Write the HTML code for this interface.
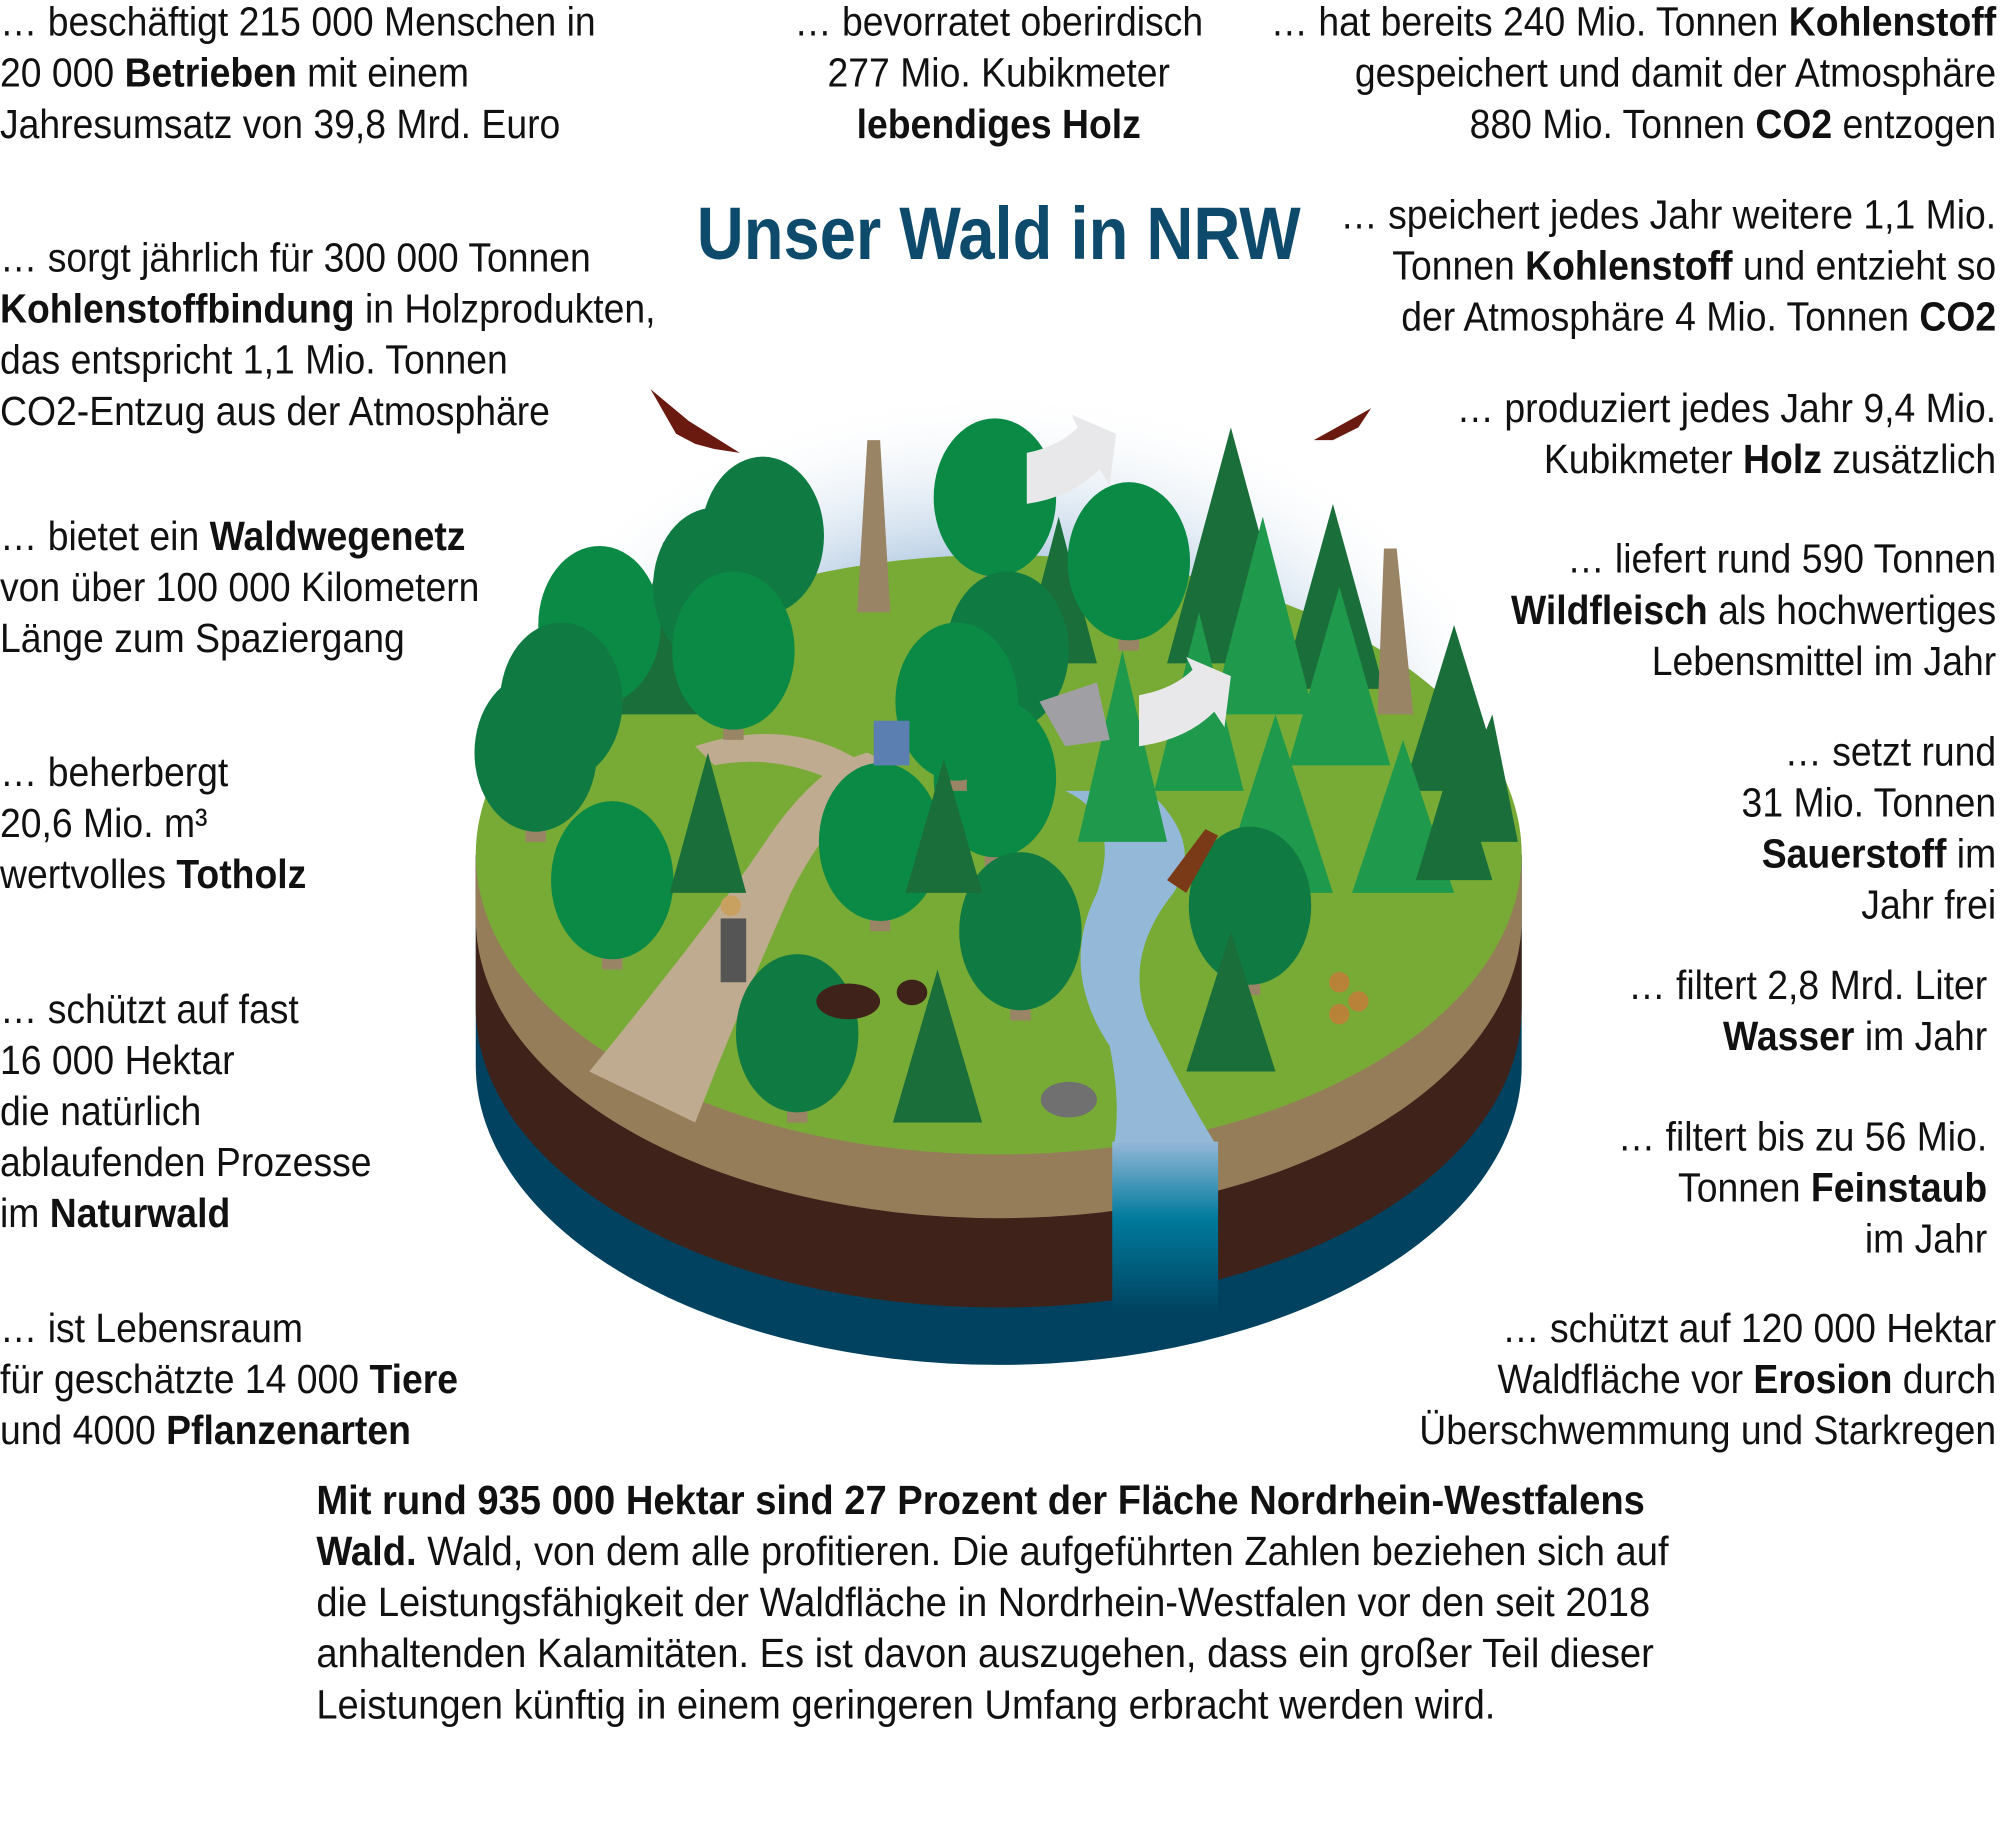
<!DOCTYPE html>
<html><head><meta charset="utf-8"><style>
html,body{margin:0;padding:0;background:#fff;}
svg{display:block;}
text{font-family:"Liberation Sans",sans-serif;font-size:32px;fill:#111;}
.b{font-weight:bold;}
</style></head><body>
<svg width="2000" height="1842" viewBox="0 0 1568 1444" preserveAspectRatio="none" xmlns="http://www.w3.org/2000/svg">
<defs>
<radialGradient id="sky" cx="0.5" cy="0.75" r="0.6">
<stop offset="0" stop-color="#8fb5d8"/><stop offset="0.6" stop-color="#b9cfe5"/><stop offset="1" stop-color="#fff" stop-opacity="0"/>
</radialGradient>
<linearGradient id="wf" x1="0" y1="0" x2="0" y2="1">
<stop offset="0" stop-color="#94b8d8"/><stop offset="0.45" stop-color="#007a9c"/><stop offset="1" stop-color="#00425f"/>
</linearGradient>
<g id="dt"><rect x="-8" y="0" width="16" height="60" fill="#9a8466"/><ellipse cx="0" cy="-10" rx="48" ry="62"/></g>
</defs>
<ellipse cx="783" cy="500" rx="360" ry="280" fill="url(#sky)"/>
<path d="M373 670 L373 835 A410 235 0 0 0 1193 835 L1193 670 Z" fill="#00425f"/>
<path d="M373 670 L373 790 A410 235 0 0 0 1193 790 L1193 670 Z" fill="#3f231b"/>
<path d="M373 670 L373 720 A410 235 0 0 0 1193 720 L1193 670 Z" fill="#957d5a"/>
<ellipse cx="783" cy="670" rx="410" ry="235" fill="#78ab35"/>
<path d="M462 840 Q560 720 600 660 Q640 600 680 590 L700 600 Q650 640 620 700 Q580 790 545 880 Z" fill="#bfab8f"/>
<path d="M545 585 Q620 560 680 600 L660 615 Q610 590 560 600 Z" fill="#bfab8f"/>
<path d="M835 620 Q880 640 860 700 Q830 760 870 820 Q880 870 872 905 L955 900 Q930 860 900 800 Q880 750 920 700 Q945 660 900 620 Z" fill="#94b8d8"/>
<rect x="872" y="895" width="83" height="135" fill="url(#wf)"/>
<g fill="#1a6e3a">
<polygon points="965,335 915,520 1015,520"/><polygon points="1045,395 1005,540 1085,540"/><polygon points="1140,490 1100,620 1180,620"/>
<polygon points="520,425 485,560 555,560"/><polygon points="830,405 800,520 860,520"/><polygon points="1170,560 1130,660 1190,660"/>
</g>
<path d="M680 345 L690 345 L698 480 L672 480 Z" fill="#9a8466"/>
<path d="M1085 430 L1095 430 L1108 560 L1080 560 Z" fill="#9a8466"/>
<g fill="#0b8a45"><use href="#dt" x="780" y="400"/><use href="#dt" x="885" y="450"/><use href="#dt" x="470" y="500"/></g>
<g fill="#0f7a42"><use href="#dt" x="598" y="430"/><use href="#dt" x="790" y="520"/><use href="#dt" x="440" y="560"/><use href="#dt" x="560" y="470"/></g>
<g fill="#1f9a4c">
<polygon points="990,405 950,560 1030,560"/><polygon points="1050,460 1010,600 1090,600"/><polygon points="940,480 905,620 975,620"/>
<polygon points="780,510 750,620 810,620"/><polygon points="1000,560 955,700 1045,700"/><polygon points="1100,580 1060,700 1140,700"/>
<polygon points="880,510 845,660 915,660"/>
</g>
<g fill="#0b8a45"><use href="#dt" x="575" y="520"/><use href="#dt" x="690" y="670"/><use href="#dt" x="780" y="620"/><use href="#dt" x="480" y="700"/><use href="#dt" x="750" y="560"/></g>
<g fill="#0f7a42"><use href="#dt" x="420" y="600"/><use href="#dt" x="980" y="720"/><use href="#dt" x="800" y="740"/><use href="#dt" x="625" y="820"/></g>
<g fill="#1a6e3a">
<polygon points="555,590 525,700 585,700"/><polygon points="740,595 710,700 770,700"/><polygon points="735,760 700,880 770,880"/>
<polygon points="1140,590 1110,690 1170,690"/><polygon points="965,730 930,840 1000,840"/>
</g>
<path d="M805 355 Q830 350 845 335 L840 325 L875 340 L870 380 L862 368 Q840 390 805 395 Z" fill="#e8e8ea"/>
<path d="M893 545 Q920 540 935 525 L930 515 L965 530 L960 570 L952 558 Q930 580 893 585 Z" fill="#e8e8ea"/>
<path d="M815 550 L860 535 L870 580 L835 585 Z" fill="#a0a0a4"/>
<path d="M510 305 L540 330 L580 355 L560 352 L545 348 L530 340 Z" fill="#6b1a10"/>
<path d="M1030 345 L1075 320 L1065 335 L1045 345 Z" fill="#6b1a10"/>
<ellipse cx="665" cy="785" rx="25" ry="14" fill="#3f231b"/><ellipse cx="715" cy="778" rx="12" ry="10" fill="#3f231b"/>
<path d="M915 690 L945 650 L955 655 L930 700 Z" fill="#7a3a18"/>
<rect x="565" y="720" width="20" height="50" fill="#555"/><circle cx="573" cy="710" r="8" fill="#c8a060"/>
<rect x="685" y="565" width="28" height="35" fill="#5a7fb0"/>
<g fill="#c97a3a" opacity="0.8"><circle cx="1050" cy="770" r="8"/><circle cx="1065" cy="785" r="8"/><circle cx="1050" cy="795" r="8"/></g>
<ellipse cx="838" cy="862" rx="22" ry="14" fill="#707070"/>
<g transform="translate(0,0) scale(0.915,1)">
<text x="0" y="28">… beschäftigt 215 000 Menschen in</text>
<text x="0" y="68">20 000 <tspan class="b">Betrieben</tspan> mit einem</text>
<text x="0" y="108">Jahresumsatz von 39,8 Mrd. Euro</text>
<text x="0" y="213">… sorgt jährlich für 300 000 Tonnen</text>
<text x="0" y="253"><tspan class="b">Kohlenstoffbindung</tspan> in Holzprodukten,</text>
<text x="0" y="293">das entspricht 1,1 Mio. Tonnen</text>
<text x="0" y="333">CO2-Entzug aus der Atmosphäre</text>
<text x="0" y="431">… bietet ein <tspan class="b">Waldwegenetz</tspan></text>
<text x="0" y="471">von über 100 000 Kilometern</text>
<text x="0" y="511">Länge zum Spaziergang</text>
<text x="0" y="616">… beherbergt</text>
<text x="0" y="656">20,6 Mio. m³</text>
<text x="0" y="696">wertvolles <tspan class="b">Totholz</tspan></text>
<text x="0" y="802">… schützt auf fast</text>
<text x="0" y="842">16 000 Hektar</text>
<text x="0" y="882">die natürlich</text>
<text x="0" y="922">ablaufenden Prozesse</text>
<text x="0" y="962">im <tspan class="b">Naturwald</tspan></text>
<text x="0" y="1052">… ist Lebensraum</text>
<text x="0" y="1092">für geschätzte 14 000 <tspan class="b">Tiere</tspan></text>
<text x="0" y="1132">und 4000 <tspan class="b">Pflanzenarten</tspan></text>
</g>
<g transform="translate(783,0) scale(0.915,1)" text-anchor="middle">
<text x="0" y="28">… bevorratet oberirdisch</text>
<text x="0" y="68">277 Mio. Kubikmeter</text>
<text x="0" y="108" class="b">lebendiges Holz</text>
</g>
<g transform="translate(783,0) scale(0.88,1)" text-anchor="middle">
<text x="0" y="203" style="font-size:58px;font-weight:bold;fill:#0d4a6b">Unser Wald in NRW</text>
</g>
<g transform="translate(1565,0) scale(0.915,1)" text-anchor="end">
<text x="0" y="28">… hat bereits 240 Mio. Tonnen <tspan class="b">Kohlenstoff</tspan></text>
<text x="0" y="68">gespeichert und damit der Atmosphäre</text>
<text x="0" y="108">880 Mio. Tonnen <tspan class="b">CO2</tspan> entzogen</text>
<text x="0" y="179">… speichert jedes Jahr weitere 1,1 Mio.</text>
<text x="0" y="219">Tonnen <tspan class="b">Kohlenstoff</tspan> und entzieht so</text>
<text x="0" y="259">der Atmosphäre 4 Mio. Tonnen <tspan class="b">CO2</tspan></text>
<text x="0" y="331">… produziert jedes Jahr 9,4 Mio.</text>
<text x="0" y="371">Kubikmeter <tspan class="b">Holz</tspan> zusätzlich</text>
<text x="0" y="449">… liefert rund 590 Tonnen</text>
<text x="0" y="489"><tspan class="b">Wildfleisch</tspan> als hochwertiges</text>
<text x="0" y="529">Lebensmittel im Jahr</text>
<text x="0" y="600">… setzt rund</text>
<text x="0" y="640">31 Mio. Tonnen</text>
<text x="0" y="680"><tspan class="b">Sauerstoff</tspan> im</text>
<text x="0" y="720">Jahr frei</text>
<text x="0" y="1052">… schützt auf 120 000 Hektar</text>
<text x="0" y="1092">Waldfläche vor <tspan class="b">Erosion</tspan> durch</text>
<text x="0" y="1132">Überschwemmung und Starkregen</text>
</g>
<g transform="translate(1558,0) scale(0.915,1)" text-anchor="end">
<text x="0" y="783">… filtert 2,8 Mrd. Liter</text>
<text x="0" y="823"><tspan class="b">Wasser</tspan> im Jahr</text>
<text x="0" y="902">… filtert bis zu 56 Mio.</text>
<text x="0" y="942">Tonnen <tspan class="b">Feinstaub</tspan></text>
<text x="0" y="982">im Jahr</text>
</g>
<g transform="translate(248,0) scale(0.935,1)">
<text x="0" y="1187" class="b">Mit rund 935 000 Hektar sind 27 Prozent der Fläche Nordrhein-Westfalens</text>
<text x="0" y="1227"><tspan class="b">Wald.</tspan> Wald, von dem alle profitieren. Die aufgeführten Zahlen beziehen sich auf</text>
<text x="0" y="1267">die Leistungsfähigkeit der Waldfläche in Nordrhein-Westfalen vor den seit 2018</text>
<text x="0" y="1307">anhaltenden Kalamitäten. Es ist davon auszugehen, dass ein großer Teil dieser</text>
<text x="0" y="1347">Leistungen künftig in einem geringeren Umfang erbracht werden wird.</text>
</g>
</svg>
</body></html>
